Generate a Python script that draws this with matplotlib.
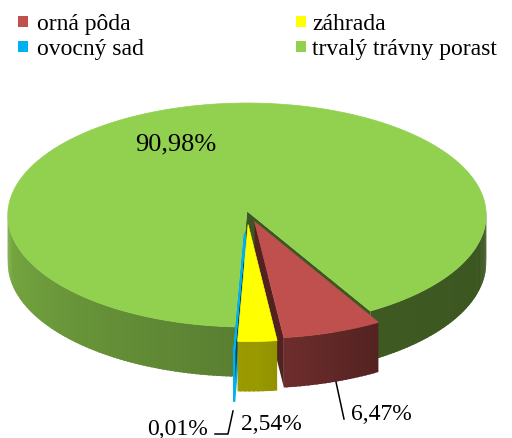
import numpy as np
import matplotlib.pyplot as plt
from matplotlib.patches import Polygon, Rectangle
from matplotlib.colors import to_rgb

# data
categories = ['orná pôda', 'záhrada', 'ovocný sad', 'trvalý trávny porast']
shares = [6.47, 2.54, 0.01, 90.98]
colors = ['#C0504D', '#FFFF00', '#00B0F0', '#92D050']
explode = [0.10, 0.12, 0.20, 0.0]
labels = [f"{v:.2f}%".replace('.', ',') for v in shares]

plt.rcParams['font.family'] = 'serif'
plt.rcParams['font.serif'] = ['Liberation Serif', 'Times New Roman', 'DejaVu Serif']

# layout of the 3D pie (pixels)
cx, cy, rx, ry, depth, persp = 247, 212, 239, 112, 48, 0.036
start = 150  # degrees clockwise from 12 o'clock


def proj(u, v, z=0.0):
    s = 1 + persp * v
    return cx + rx * u * s, cy + ry * v * s + depth * z * s


def point(theta, e, m, r=1.0, z=0.0):
    t, mm = np.radians(theta), np.radians(m)
    u = r * np.sin(t) + e * np.sin(mm)
    v = -r * np.cos(t) - e * np.cos(mm)
    return proj(u, v, z)


def shade(theta):
    return np.interp(theta % 360, [90, 150, 178, 270], [0.41, 0.43, 0.60, 0.83])


def darker(c, f):
    return tuple(np.clip(np.array(to_rgb(c)) * f, 0, 1))


fig = plt.figure(figsize=(5.12, 4.39), dpi=100)
ax = fig.add_axes([0, 0, 1, 1])
ax.set_xlim(0, 512)
ax.set_ylim(439, 0)
ax.axis('off')

walls = []
tops = []
a = start
total = sum(shares)
for i, val in enumerate(shares):
    t1 = a
    t2 = a + 360 * val / total
    a = t2
    m = (t1 + t2) / 2
    e = explode[i]
    col = colors[i]
    thin = val < 0.1
    edge_kw = dict(edgecolor=col, linewidth=1.3) if thin else {}

    # top face
    th = np.linspace(t1, t2, max(2, int(t2 - t1) * 2 + 2))
    pts = [point(t1, e, m, r=0)] + [point(t, e, m) for t in th]
    tops.append((Polygon(pts, closed=True), col, edge_kw))

    # outer wall (front half only), split in strips for shading
    for k in range(-1, 3):
        lo = max(t1, 90 + 360 * k)
        hi = min(t2, 270 + 360 * k)
        if hi <= lo:
            continue
        n = max(1, int(hi - lo))
        edges = np.linspace(lo, hi, n + 1)
        step = edges[1] - edges[0]
        for ta, tb in zip(edges[:-1], edges[1:]):
            tb2 = min(hi, tb + 0.6 * step)  # overlap to hide seams
            arc = np.linspace(ta, tb2, 4)
            poly = [point(t, e, m) for t in arc] + [point(t, e, m, z=1) for t in arc[::-1]]
            c = darker(col, shade((ta + tb) / 2))
            mean_y = np.mean([p[1] for p in poly])
            walls.append(((e > 0, mean_y), Polygon(poly, closed=True), c, edge_kw))

    # radial walls that face the viewer
    for t, vis in ((t1, np.sin(np.radians(t1)) < 0), (t2, np.sin(np.radians(t2)) > 0)):
        if not vis:
            continue
        poly = [point(t, e, m, r=0), point(t, e, m),
                point(t, e, m, z=1), point(t, e, m, r=0, z=1)]
        c = darker(col, 0.42)
        mean_y = np.mean([p[1] for p in poly])
        walls.append(((e > 0, mean_y - 60), Polygon(poly, closed=True), c, edge_kw))

walls.sort(key=lambda w: w[0])
for _, poly, c, kw in walls:
    poly.set_facecolor(c)
    poly.set_edgecolor(kw.get('edgecolor', 'none'))
    poly.set_linewidth(kw.get('linewidth', 0))
    ax.add_patch(poly)

order = [3, 0, 1, 2]
for j in order:
    poly, c, kw = tops[j]
    poly.set_facecolor(c)
    poly.set_edgecolor(kw.get('edgecolor', c))
    poly.set_linewidth(kw.get('linewidth', 0.5))
    ax.add_patch(poly)

# data labels
label_pos = [(381, 420), (271, 430), (178, 435), (176, 150)]
label_size = [17, 17, 17, 19]
for lab, (x, y), fs in zip(labels, label_pos, label_size):
    ax.text(x, y, lab, ha='center', va='baseline', fontsize=fs, color='black')

# leader lines
ax.plot([336, 344], [383, 420], color='black', lw=1.1)
ax.plot([233, 228, 215], [412, 435, 435], color='black', lw=1.1)

# legend
sq_x = [18, 296]
tx_x = [37, 312]
for i, cat in enumerate(categories):
    col, row = i % 2, i // 2
    ax.add_patch(Rectangle((sq_x[col], 17 + 25 * row), 10, 11, facecolor=colors[i], edgecolor='none'))
    ax.text(tx_x[col], 30 + 25 * row, cat, ha='left', va='baseline', fontsize=17, color='black')

fig.savefig('out.png', dpi=100)
